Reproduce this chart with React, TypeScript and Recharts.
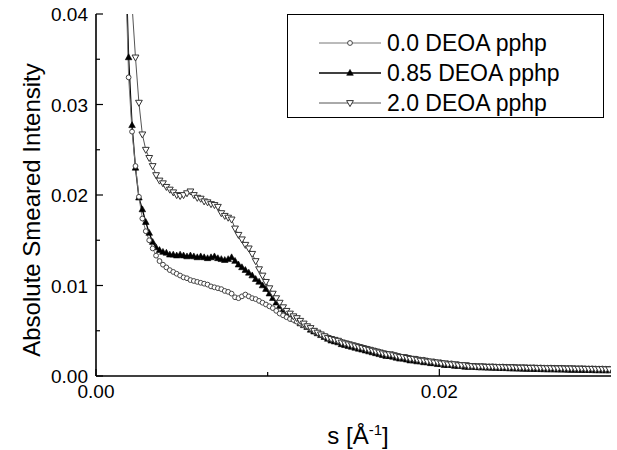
import { LineChart, Line, XAxis, YAxis } from 'recharts';

// scattering vector s [1/Å]
const S = [
  0.0017, 0.0019, 0.0021, 0.0023, 0.0025, 0.0027, 0.0029, 0.0031, 0.0033, 0.0035,
  0.0037, 0.0039, 0.0041, 0.0043, 0.0045, 0.0047, 0.0049, 0.0051, 0.0053, 0.0055,
  0.0057, 0.0059, 0.0061, 0.0063, 0.0065, 0.0067, 0.0069, 0.0071, 0.0073, 0.0075,
  0.0077, 0.0079, 0.0081, 0.0083, 0.0085, 0.0087, 0.0089, 0.0091, 0.0093, 0.0095,
  0.0097, 0.0099, 0.0101, 0.0103, 0.0105, 0.0107, 0.0109, 0.0111, 0.0113, 0.0115,
  0.0117, 0.0119, 0.0121, 0.0123, 0.0125, 0.0127, 0.0129, 0.0131, 0.0133, 0.0135,
  0.0137, 0.0139, 0.0141, 0.0143, 0.0145, 0.0147, 0.0149, 0.0151, 0.0153, 0.0155,
  0.0157, 0.0159, 0.0161, 0.0163, 0.0165, 0.0167, 0.0169, 0.0171, 0.0173, 0.0175,
  0.0177, 0.0179, 0.0181, 0.0183, 0.0185, 0.0187, 0.0189, 0.0191, 0.0193, 0.0195,
  0.0197, 0.0199, 0.0201, 0.0203, 0.0205, 0.0207, 0.0209, 0.0211, 0.0213, 0.0215,
  0.0217, 0.0219, 0.0221, 0.0223, 0.0225, 0.0227, 0.0229, 0.0231, 0.0233, 0.0235,
  0.0237, 0.0239, 0.0241, 0.0243, 0.0245, 0.0247, 0.0249, 0.0251, 0.0253, 0.0255,
  0.0257, 0.0259, 0.0261, 0.0263, 0.0265, 0.0267, 0.0269, 0.0271, 0.0273, 0.0275,
  0.0277, 0.0279, 0.0281, 0.0283, 0.0285, 0.0287, 0.0289, 0.0291, 0.0293, 0.0295,
  0.0297, 0.0299,
];

// 0.0 DEOA pphp
const I_00 = [
  0.046, 0.0330, 0.0270, 0.0232, 0.0198, 0.0174, 0.0160, 0.0150, 0.0141, 0.0133,
  0.0127, 0.0123, 0.0120, 0.0117, 0.0115, 0.0113, 0.0111, 0.0109, 0.0108, 0.0106,
  0.0105, 0.0104, 0.0103, 0.0102, 0.0101, 0.0099, 0.0098, 0.0097, 0.0096, 0.0094,
  0.0093, 0.0091, 0.0087, 0.0086, 0.0088, 0.0090, 0.0088, 0.0086, 0.0085, 0.0083,
  0.0081, 0.0079, 0.0077, 0.0075, 0.0072, 0.0069, 0.0067, 0.0065, 0.0063, 0.0062,
  0.0060, 0.0058, 0.0056, 0.0054, 0.0052, 0.0050, 0.0048, 0.0046, 0.0044, 0.0043,
  0.0041, 0.0040, 0.0039, 0.0038, 0.0037, 0.0036, 0.0035, 0.0034, 0.0033, 0.0032,
  0.0031, 0.0030, 0.0029, 0.0028, 0.0027, 0.0026, 0.0025, 0.0024, 0.0024, 0.0023,
  0.0022, 0.0021, 0.0021, 0.0020, 0.0019, 0.0019, 0.0018, 0.0018, 0.0017, 0.0016,
  0.0016, 0.0015, 0.0015, 0.0014, 0.0014, 0.0014, 0.0013, 0.0013, 0.0012, 0.0012,
  0.0012, 0.0011, 0.00112, 0.00110, 0.00111, 0.00108, 0.00107, 0.00108, 0.00105, 0.00104,
  0.00105, 0.00102, 0.00101, 0.00102, 0.00099, 0.00098, 0.00099, 0.00097, 0.00096, 0.00097,
  0.00094, 0.00095, 0.00093, 0.00092, 0.00093, 0.00091, 0.00090, 0.00091, 0.00089, 0.00088,
  0.00089, 0.00087, 0.00086, 0.00087, 0.00085, 0.00084, 0.00085, 0.00083, 0.00082, 0.00083,
  0.00081, 0.00080,
];

// 0.85 DEOA pphp
const I_085 = [
  0.048, 0.0352, 0.0277, 0.0230, 0.0197, 0.0184, 0.0170, 0.0158, 0.0148, 0.0142,
  0.0139, 0.0137, 0.0136, 0.0134, 0.0134, 0.0133, 0.0134, 0.0133, 0.0132, 0.0133,
  0.0132, 0.0131, 0.0132, 0.0131, 0.0130, 0.0131, 0.0132, 0.0130, 0.0129, 0.0128,
  0.0129, 0.0131, 0.0127, 0.0123, 0.0120, 0.0117, 0.0114, 0.0111, 0.0107, 0.0104,
  0.0100, 0.0096, 0.0091, 0.0086, 0.0081, 0.0077, 0.0073, 0.0069, 0.0066, 0.0063,
  0.0061, 0.0058, 0.0056, 0.0054, 0.0051, 0.0049, 0.0047, 0.0045, 0.0043, 0.0041,
  0.0039, 0.0038, 0.0037, 0.0035, 0.0034, 0.0033, 0.0032, 0.0031, 0.0030, 0.0029,
  0.0028, 0.0027, 0.0026, 0.0025, 0.0024, 0.0023, 0.0022, 0.0022, 0.0021, 0.0020,
  0.0019, 0.0019, 0.0018, 0.0017, 0.0017, 0.0016, 0.0016, 0.0015, 0.0015, 0.0014,
  0.0014, 0.0013, 0.0013, 0.0012, 0.0012, 0.0012, 0.0011, 0.0011, 0.0011, 0.0010,
  0.0010, 0.0010, 0.00097, 0.00095, 0.00094, 0.00092, 0.00091, 0.00090, 0.00088, 0.00087,
  0.00086, 0.00085, 0.00083, 0.00082, 0.00081, 0.00080, 0.00079, 0.00078, 0.00077, 0.00076,
  0.00075, 0.00074, 0.00073, 0.00072, 0.00072, 0.00071, 0.00070, 0.00069, 0.00069, 0.00068,
  0.00067, 0.00066, 0.00066, 0.00065, 0.00064, 0.00064, 0.00063, 0.00062, 0.00062, 0.00061,
  0.00061, 0.00060,
];

// 2.0 DEOA pphp
const I_20 = [
  0.052, 0.046, 0.0410, 0.0352, 0.0302, 0.0267, 0.0250, 0.0241, 0.0232, 0.0222,
  0.0216, 0.0213, 0.0209, 0.0206, 0.0203, 0.0200, 0.0199, 0.0200, 0.0202, 0.0204,
  0.0200, 0.0197, 0.0196, 0.0193, 0.0192, 0.0190, 0.0189, 0.0187, 0.0180, 0.0177,
  0.0175, 0.0173, 0.0163, 0.0156, 0.0151, 0.0145, 0.0141, 0.0135, 0.0127, 0.0118,
  0.0111, 0.0104, 0.0097, 0.0091, 0.0086, 0.0081, 0.0076, 0.0072, 0.0069, 0.0066,
  0.0064, 0.0061, 0.0058, 0.0055, 0.0053, 0.0050, 0.0048, 0.0046, 0.0044, 0.0042,
  0.0041, 0.0040, 0.0039, 0.0037, 0.0036, 0.0035, 0.0034, 0.0033, 0.0032, 0.0031,
  0.0030, 0.0029, 0.0028, 0.0027, 0.0026, 0.0025, 0.0024, 0.0024, 0.0023, 0.0022,
  0.0021, 0.0021, 0.0020, 0.0019, 0.0019, 0.0018, 0.0017, 0.0017, 0.0016, 0.0016,
  0.0015, 0.0015, 0.0014, 0.0014, 0.0013, 0.0013, 0.0013, 0.0012, 0.0012, 0.0012,
  0.0011, 0.0011, 0.00106, 0.00104, 0.00105, 0.00102, 0.00101, 0.00102, 0.00099, 0.00098,
  0.00099, 0.00096, 0.00095, 0.00096, 0.00093, 0.00092, 0.00093, 0.00091, 0.00090, 0.00091,
  0.00088, 0.00089, 0.00087, 0.00086, 0.00087, 0.00085, 0.00084, 0.00085, 0.00083, 0.00082,
  0.00083, 0.00081, 0.00080, 0.00081, 0.00079, 0.00078, 0.00079, 0.00077, 0.00076, 0.00077,
  0.00075, 0.00074,
];

const Y_TICKS = [0, 0.005, 0.01, 0.015, 0.02, 0.025, 0.03, 0.035, 0.04];
const X_TICKS = [0, 0.01, 0.02];
const X_LABELED = [0, 0.02];
const SERIES_NAMES = ['0.0 DEOA pphp', '0.85 DEOA pphp', '2.0 DEOA pphp'];

const data = S.map((s, i) => ({ s, a: I_00[i], b: I_085[i], c: I_20[i] }));

const FONT = '"Liberation Sans", Arial, sans-serif';

// markers
const circleDot = (cx: number, cy: number, key?: any) => (
  <circle key={key} cx={cx} cy={cy} r={2.4} fill="#fff" stroke="#444" strokeWidth={1} />
);
const triUp = (cx: number, cy: number, key?: any) => (
  <polygon
    key={key}
    points={`${cx},${cy - 3.6} ${cx - 3.3},${cy + 2.3} ${cx + 3.3},${cy + 2.3}`}
    fill="#000"
    stroke="#000"
    strokeWidth={0.6}
  />
);
const triDown = (cx: number, cy: number, key?: any) => (
  <polygon
    key={key}
    points={`${cx - 3.4},${cy - 2.4} ${cx + 3.4},${cy - 2.4} ${cx},${cy + 3.6}`}
    fill="#fff"
    stroke="#333"
    strokeWidth={1}
  />
);

const makeDot = (shape: (cx: number, cy: number, key?: any) => JSX.Element) => (props: any) => {
  const { cx, cy, index } = props;
  if (cx == null || cy == null) return <g key={`n-${index}`} />;
  return shape(cx, cy, `d-${index}`);
};

const YTick = (props: any) => {
  const { x, y, payload } = props;
  const v = payload.value as number;
  const axisX = x + 8;
  const major = Math.round(v * 1000) % 10 === 0;
  return (
    <g>
      <line x1={axisX} x2={axisX + (major ? 7 : 4)} y1={y} y2={y} stroke="#000" strokeWidth={1.2} />
      {major && (
        <text x={x} y={y + 7} textAnchor="end" fontSize={19} fontFamily={FONT} fill="#000">
          {v.toFixed(2)}
        </text>
      )}
    </g>
  );
};

const XTick = (props: any) => {
  const { x, y, payload } = props;
  const v = payload.value as number;
  const axisY = y - 8;
  const labeled = X_LABELED.some((t) => Math.abs(t - v) < 1e-9);
  return (
    <g>
      <line x1={x} x2={x} y1={axisY} y2={axisY - (labeled ? 7 : 4)} stroke="#000" strokeWidth={1.2} />
      {labeled && (
        <text x={x} y={axisY + 22} textAnchor="middle" fontSize={19} fontFamily={FONT} fill="#000">
          {v.toFixed(2)}
        </text>
      )}
    </g>
  );
};

const LegendBox = () => {
  const rows = [
    { name: SERIES_NAMES[0], stroke: '#777', width: 1, shape: circleDot },
    { name: SERIES_NAMES[1], stroke: '#000', width: 1.3, shape: triUp },
    { name: SERIES_NAMES[2], stroke: '#555', width: 1, shape: triDown },
  ];
  return (
    <div
      style={{
        position: 'absolute',
        left: 287,
        top: 14,
        width: 317,
        height: 104,
        border: '1.5px solid #000',
        boxSizing: 'border-box',
        background: '#fff',
      }}
    >
      <svg width={314} height={101} style={{ display: 'block' }}>
        {rows.map((r, i) => {
          const cy = 28 + i * 30;
          return (
            <g key={r.name}>
              <line x1={31} x2={93} y1={cy} y2={cy} stroke={r.stroke} strokeWidth={r.width} />
              {r.shape(62, cy)}
              <text x={99} y={cy + 8} fontSize={23} fontFamily={FONT} fill="#000">
                {r.name}
              </text>
            </g>
          );
        })}
      </svg>
    </div>
  );
};

export default function App() {
  return (
    <div style={{ position: 'absolute', left: 0, top: 0, width: 617, height: 450, background: '#fff' }}>
      <LineChart
        width={617}
        height={450}
        data={data}
        margin={{ top: 14, right: 6, bottom: 0, left: 0 }}
      >
        <XAxis
          dataKey="s"
          type="number"
          domain={[0, 0.03]}
          allowDataOverflow
          ticks={X_TICKS}
          tick={<XTick />}
          tickSize={0}
          tickMargin={8}
          height={74}
          axisLine={{ stroke: '#000', strokeWidth: 1.6 }}
          tickLine={false}
          interval={0}
          label={{
            content: () => (
              <text x={358} y={444} textAnchor="middle" fontSize={24} fontFamily={FONT} fill="#000">
                s [Å
                <tspan dy={-9} fontSize={15}>
                  -1
                </tspan>
                <tspan dy={9}>]</tspan>
              </text>
            ),
          }}
        />
        <YAxis
          type="number"
          domain={[0, 0.04]}
          allowDataOverflow
          ticks={Y_TICKS}
          tick={<YTick />}
          tickSize={0}
          tickMargin={8}
          width={96}
          axisLine={{ stroke: '#000', strokeWidth: 1.6 }}
          tickLine={false}
          interval={0}
          label={{
            content: () => (
              <text
                x={40}
                y={210}
                transform="rotate(-90, 40, 210)"
                textAnchor="middle"
                fontSize={24}
                fontFamily={FONT}
                fill="#000"
              >
                Absolute Smeared Intensity
              </text>
            ),
          }}
        />
        <Line
          dataKey="b"
          name={SERIES_NAMES[1]}
          stroke="#000"
          strokeWidth={1.3}
          dot={makeDot(triUp)}
          activeDot={false}
          isAnimationActive={false}
        />
        <Line
          dataKey="a"
          name={SERIES_NAMES[0]}
          stroke="#777"
          strokeWidth={1}
          dot={makeDot(circleDot)}
          activeDot={false}
          isAnimationActive={false}
        />
        <Line
          dataKey="c"
          name={SERIES_NAMES[2]}
          stroke="#555"
          strokeWidth={1}
          dot={makeDot(triDown)}
          activeDot={false}
          isAnimationActive={false}
        />
      </LineChart>
      <LegendBox />
    </div>
  );
}
